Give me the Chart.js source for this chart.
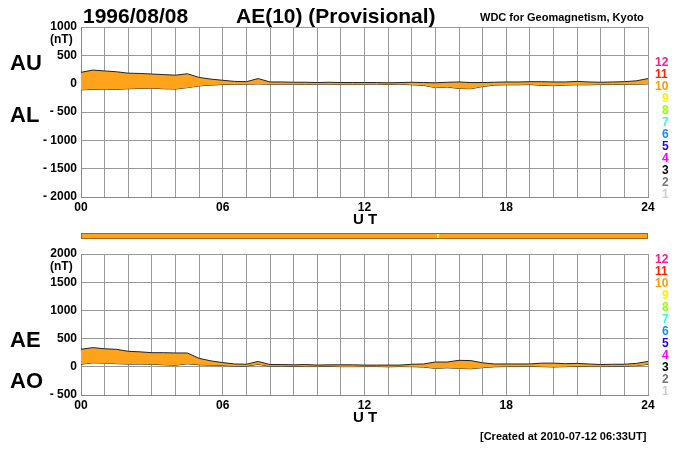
<!DOCTYPE html>
<html><head><meta charset="utf-8">
<script src="https://cdn.jsdelivr.net/npm/chart.js@4"></script>
<style>
body{margin:0;width:700px;height:450px;background:#fff;position:relative;font-family:"Liberation Sans",Arial,sans-serif;font-weight:bold;overflow:hidden}
.t{position:absolute;white-space:nowrap;line-height:1}
canvas{position:absolute;left:0}
</style></head><body>
<canvas id="c1" style="top:0" width="700" height="215"></canvas>
<canvas id="c2" style="top:227px" width="700" height="186"></canvas>
<div id="txt"></div>
<script>
const hours=[0,0.5,1,1.5,2,2.5,3,3.5,4,4.5,5,5.5,6,6.5,7,7.5,8,8.5,9,9.5,10,10.5,11,11.5,12,12.5,13,13.5,14,14.5,15,15.5,16,16.5,17,17.5,18,18.5,19,19.5,20,20.5,21,21.5,22,22.5,23,23.5,24];
const AU=[200,240,225,210,185,180,170,160,150,175,110,80,60,40,35,90,30,30,25,25,20,25,20,20,20,20,15,20,25,20,15,25,30,20,20,25,30,30,35,35,30,30,40,30,25,30,35,50,90];
const AL=[-110,-100,-95,-100,-90,-85,-80,-90,-95,-70,-40,-25,-15,-10,-10,-5,-10,-10,-10,-15,-10,-10,-15,-15,-10,-10,-15,-10,-20,-30,-70,-60,-85,-90,-50,-25,-20,-20,-15,-30,-35,-25,-20,-20,-15,-15,-10,-10,-5];
const AE=[310,340,320,310,275,265,250,250,245,245,150,105,75,50,45,95,40,40,35,40,30,35,35,35,30,30,30,30,45,50,85,85,115,110,70,50,50,50,50,65,65,55,60,50,40,45,45,60,95];
const AO=[45,70,65,55,48,48,45,35,28,53,35,28,23,15,13,43,10,10,8,5,5,8,3,3,5,5,0,5,3,-5,-28,-18,-28,-35,-15,0,5,5,10,3,-3,3,10,5,5,8,13,20,43];
const xTicks={0:'00',6:'06',12:'12',18:'18',24:'24'};
const stations=['12','11','10','9','8','7','6','5','4','3','2','1'];
const stColors=['#ff1a8c','#ff2200','#ff9900','#ffee00','#99ff00','#33ffcc','#1a8cff','#2200ff','#ff00ff','#000000','#777777','#cccccc'];
const fill='#ffa31a';
function pts(a){return hours.map((h,i)=>({x:h,y:a[i]}));}
function make(id,hi,lo,min,max){
  new Chart(document.getElementById(id),{type:'line',
    data:{datasets:[
      {data:pts(hi),borderColor:'#222',borderWidth:1,pointRadius:0,fill:'+1',backgroundColor:fill,tension:0},
      {data:pts(lo),borderColor:'#222',borderWidth:1,pointRadius:0,fill:false,tension:0}]},
    options:{responsive:false,animation:false,events:[],
      layout:{padding:{top:27,right:52,left:0,bottom:0}},
      plugins:{legend:{display:false},tooltip:{enabled:false}},
      scales:{
        x:{type:'linear',min:0,max:24,afterFit:s=>{s.height=18},
          grid:{color:'#999',lineWidth:1,drawTicks:false},border:{color:'#888'},
          ticks:{stepSize:1,autoSkip:false,maxRotation:0,padding:3,color:'#000',font:{family:'Liberation Sans',weight:'bold',size:12},callback:v=>xTicks[v]??''}},
        y:{min:min,max:max,afterFit:s=>{s.width=81},
          grid:{color:'#999',lineWidth:1,drawTicks:false},border:{color:'#888'},
          ticks:{stepSize:500,padding:4,color:'#000',font:{family:'Liberation Sans',weight:'bold',size:12},callback:v=>v<0?'- '+(-v):''+v}}
      }}});
}
make('c1',AU,AL,-2000,1000);
make('c2',AE,AO,-500,2000);
const T=document.getElementById('txt');
function t(s,x,y,sz,col,extra){const d=document.createElement('div');d.className='t';d.textContent=s;d.style.left=x+'px';d.style.top=y+'px';d.style.fontSize=sz+'px';if(col)d.style.color=col;if(extra)Object.assign(d.style,extra);T.appendChild(d);return d;}
t('1996/08/08',83,5,21);
t('AE(10) (Provisional)',236,5,21);
t('WDC for Geomagnetism, Kyoto',480,12,11);
t('(nT)',50,33,12);
t('(nT)',50,260,12);
t('AU',10,52,22);t('AL',10,104,22);
t('AE',10,329,22);t('AO',10,370,22);
t('U T',353,211,15);t('U T',353,409,15);
t('[Created at 2010-07-12 06:33UT]',480,431,11);
stations.forEach((s,i)=>{t(s,669-(s.length*7),56+i*12,12,stColors[i]);t(s,669-(s.length*7),253+i*12,12,stColors[i]);});
const bar=document.createElement('div');Object.assign(bar.style,{position:'absolute',left:'81px',top:'233px',width:'567px',height:'6px',background:fill,border:'1px solid #aa6600',boxSizing:'border-box'});T.appendChild(bar);
const yl=document.createElement('div');Object.assign(yl.style,{position:'absolute',left:'437px',top:'234px',width:'2px',height:'4px',background:'#ffff33'});T.appendChild(yl);
</script></body></html>
